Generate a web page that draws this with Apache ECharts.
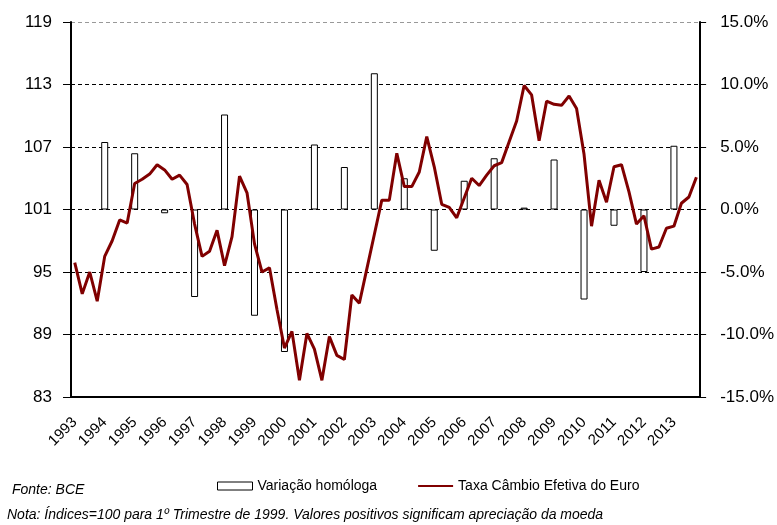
<!DOCTYPE html>
<html>
<head>
<meta charset="utf-8">
<script src="https://cdn.jsdelivr.net/npm/echarts@6/dist/echarts.min.js"></script>
<style>
  html, body { margin: 0; padding: 0; background: #fff; }
  #chart { width: 777px; height: 525px; }
</style>
</head>
<body>
<div id="chart"></div>
<script>
// anos (cada ano tem 4 trimestres no eixo)
const years = ["1993", "1994", "1995", "1996", "1997", "1998", "1999", "2000", "2001", "2002", "2003",
  "2004", "2005", "2006", "2007", "2008", "2009", "2010", "2011", "2012", "2013"]

// variação homóloga anual (%), eixo direito
const variacao = [null, 5.4, 4.5, -0.3, -7.0, 7.6, -8.5, -11.4, 5.2, 3.4, 10.9,
  2.5, -3.3, 2.3, 4.1, 0.15, 4.0, -7.2, -1.3, -5.0, 5.1]

// taxa de câmbio efetiva do euro, trimestral (1T1999 = 100), eixo esquerdo
const taxa = [
  95.9, 92.9, 95.0, 92.2,
  96.5, 98.0, 100.0, 99.7,
  103.5, 103.9, 104.4, 105.3,
  104.8, 103.9, 104.3, 103.4,
  99.6, 96.5, 97.0, 99.0,
  95.6, 98.4, 104.2, 102.6,
  97.7, 95.0, 95.4, 91.4,
  87.7, 89.3, 84.6, 89.1,
  87.6, 84.6, 88.8, 87.0,
  86.6, 92.8, 92.0, 95.3,
  98.6, 101.9, 101.9, 106.4,
  103.2, 103.2, 104.6, 108.0,
  105.1, 101.5, 101.2, 100.2,
  102.1, 104.0, 103.3, 104.3,
  105.2, 105.5, 107.5, 109.5,
  112.9, 112.0, 107.6, 111.4,
  111.1, 111.0, 111.9, 110.7,
  106.3, 99.4, 103.8, 101.7,
  105.1, 105.3, 102.7, 99.6,
  100.4, 97.2, 97.4, 99.2,
  99.4, 101.6, 102.2, 104.1
]

const quarters = []
const barData = []
years.forEach((y, i) => {
  for (let q = 1; q <= 4; q++) {
    quarters.push(y + "T" + q)
    barData.push(q === 1 ? variacao[i] : null)
  }
})

const font = "'Liberation Sans', Arial, sans-serif"
const chart = echarts.init(document.getElementById("chart"))

chart.setOption({
  animation: false,
  textStyle: { fontFamily: font },
  grid: { left: 71, right: 72, top: 22, bottom: 128 },
  legend: {
    left: 217,
    top: 479,
    padding: 0,
    itemWidth: 35,
    itemHeight: 8,
    itemGap: 40,
    textStyle: { fontSize: 14, color: "#000", fontFamily: font },
    data: [
      { name: "Variação homóloga", icon: "rect",
        itemStyle: { color: "#fff", borderColor: "#000", borderWidth: 1 } },
      { name: "Taxa Câmbio Efetiva do Euro", itemStyle: { opacity: 0 } }
    ]
  },
  xAxis: {
    type: "category",
    data: quarters,
    boundaryGap: true,
    axisLine: { onZero: false, lineStyle: { color: "#000", width: 2 } },
    axisTick: { interval: 3, length: 6, lineStyle: { color: "#000" } },
    axisLabel: {
      interval: 3,
      rotate: 45,
      margin: 23,
      fontSize: 15,
      color: "#000",
      formatter: v => v.slice(0, 4)
    },
    splitLine: { show: false }
  },
  yAxis: [
    {
      type: "value",
      position: "left",
      min: 83,
      max: 119,
      alignTicks: true,
      axisLine: { show: true, onZero: false, lineStyle: { color: "#000", width: 2 } },
      axisTick: { show: true, length: 8, lineStyle: { color: "#000" } },
      axisLabel: { fontSize: 17, color: "#000", margin: 19 },
      splitLine: { show: false }
    },
    {
      type: "value",
      position: "right",
      min: -15,
      max: 15,
      interval: 5,
      axisLine: { show: true, onZero: false, lineStyle: { color: "#000", width: 2 } },
      axisTick: { show: true, length: 6, lineStyle: { color: "#000" } },
      axisLabel: { fontSize: 17, color: "#000", margin: 20, formatter: v => v.toFixed(1) + "%" },
      splitLine: {
        show: true,
        lineStyle: {
          type: [4, 3],
          width: 1,
          color: ["#000", "#000", "#000", "#000", "#000", "#000", "#999"]
        }
      }
    }
  ],
  series: [
    {
      name: "Variação homóloga",
      type: "bar",
      yAxisIndex: 1,
      data: barData,
      barWidth: 7,
      itemStyle: { color: "#fff", borderColor: "#000", borderWidth: 1 }
    },
    {
      name: "Taxa Câmbio Efetiva do Euro",
      type: "line",
      yAxisIndex: 0,
      data: taxa,
      symbol: "none",
      lineStyle: { color: "#800000", width: 3 },
      itemStyle: { color: "#800000" }
    }
  ],
  graphic: [
    {
      type: "text",
      left: 12,
      top: 483,
      style: { text: "Fonte: BCE", fontSize: 14, fontStyle: "italic", fill: "#000", fontFamily: font }
    },
    {
      type: "text",
      left: 7,
      top: 508,
      style: {
        text: "Nota: Índices=100 para 1º Trimestre de 1999. Valores positivos significam apreciação da moeda",
        fontSize: 14, fontStyle: "italic", fill: "#000", fontFamily: font
      }
    }
  ]
})
</script>
</body>
</html>
